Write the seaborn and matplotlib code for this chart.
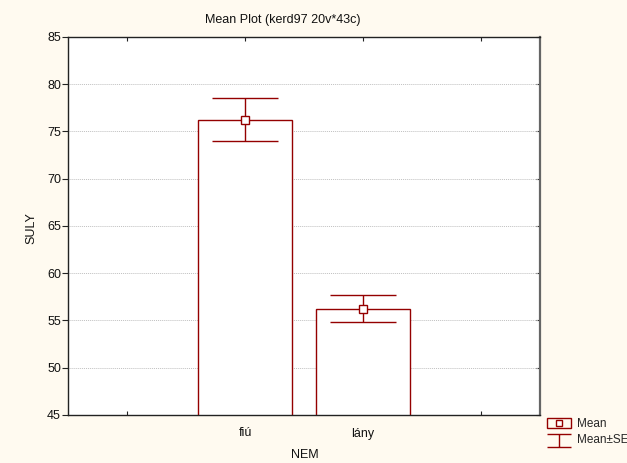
import matplotlib
matplotlib.use("Agg")
import matplotlib.pyplot as plt
import seaborn as sns
import pandas as pd
from matplotlib.lines import Line2D
from matplotlib.patches import Rectangle
from matplotlib.path import Path
from matplotlib.legend_handler import HandlerTuple

# ---- data ----
categories = ["fiú", "lány"]
means = [76.25, 56.25]
se_upper = [78.5, 57.65]
se_lower = [74.0, 54.8]
slots = ["_lo", "fiú", "lány", "_hi"]
slot_labels = ["", "fiú", "lány", ""]
yticks = [45, 50, 55, 60, 65, 70, 75, 80, 85]
title = "Mean Plot (kerd97 20v*43c)"
xlabel = "NEM"
ylabel = "SULY"

RED = "#940000"
BG = "#FFFAF0"

sns.set_theme(style="white")
plt.rcParams["font.family"] = ["Liberation Sans", "DejaVu Sans"]
plt.rcParams["font.size"] = 9

fig = plt.figure(figsize=(6.27, 4.63), dpi=100, facecolor=BG)
W, H = 627, 463
ax = fig.add_axes([68 / W, 1 - 415 / H, (540 - 68) / W, (415 - 37) / H])
ax.set_facecolor("white")

df = pd.DataFrame({"NEM": categories, "SULY": means})
sns.barplot(data=df, x="NEM", y="SULY", order=slots, width=0.8,
            color="white", edgecolor=RED, linewidth=1.0, ax=ax, errorbar=None,
            zorder=2)

xs = [p.get_x() + p.get_width() / 2 for p in ax.patches if p.get_height() > 0]
yerr = [[m - lo for m, lo in zip(means, se_lower)],
        [hi - m for m, hi in zip(means, se_upper)]]
ax.errorbar(xs, means, yerr=yerr, fmt="none", ecolor=RED, elinewidth=1.0,
            capsize=24, capthick=1.0, zorder=3)
ax.plot(xs, means, linestyle="none", marker="s", markersize=6,
        markerfacecolor="white", markeredgecolor=RED, markeredgewidth=1.0, zorder=4)

ax.set_ylim(yticks[0], yticks[-1])
ax.set_xlim(-0.5, 3.5)
ax.set_yticks(yticks)
ax.set_xticks(range(len(slots)))
ax.set_xticklabels(slot_labels)
ax.set_xlabel("")
ax.set_ylabel("")
ax.yaxis.grid(True, linestyle=(0, (1, 1)), color="#c0c0c0", linewidth=0.7, zorder=0)
ax.set_axisbelow(True)

for s in ["left", "top", "bottom"]:
    ax.spines[s].set_color("#222222")
    ax.spines[s].set_linewidth(1.0)
ax.spines["right"].set_color("#666666")
ax.spines["right"].set_linewidth(1.6)

ax.tick_params(axis="y", which="both", left=True, right=False, direction="out",
               length=4, width=0.8, color="#222222", labelsize=9, pad=1,
               labelcolor="#111111")
ax.tick_params(axis="x", which="both", bottom=True, top=False, direction="in",
               length=3, width=0.8, color="#222222", labelsize=9, pad=9,
               labelcolor="#111111")

sec_r = ax.secondary_yaxis("right")
sec_r.set_yticks(yticks)
sec_r.tick_params(direction="in", length=3, width=0.8, color="#222222", labelright=False)
sec_r.spines["right"].set_visible(False)
sec_t = ax.secondary_xaxis("top")
sec_t.set_xticks(range(len(slots)))
sec_t.tick_params(direction="in", length=3, width=0.8, color="#222222", labeltop=False)
sec_t.spines["top"].set_visible(False)

fig.text(283 / W, 1 - 20 / H, title, ha="center", va="center", fontsize=9, color="#111111")
fig.text(305 / W, 1 - 455 / H, xlabel, ha="center", va="center", fontsize=9, color="#111111")
fig.text(31 / W, 1 - 228 / H, ylabel, ha="center", va="center", rotation=90,
         fontsize=9, color="#111111")

# legend
box = Rectangle((0, 0), 1, 1, facecolor="none", edgecolor=RED, linewidth=1.0)
inner = Line2D([], [], linestyle="none", marker="s", markersize=5,
               markerfacecolor="white", markeredgecolor=RED, markeredgewidth=1.0)
ipath = Path([(-1, 0.3), (1, 0.3), (0, 0.3), (0, -0.8), (-1, -0.8), (1, -0.8)],
             [Path.MOVETO, Path.LINETO, Path.MOVETO, Path.LINETO, Path.MOVETO, Path.LINETO])
ibar = Line2D([], [], linestyle="none", marker=ipath, markersize=17,
              markerfacecolor="none", markeredgecolor=RED, markeredgewidth=1.0)
fig.legend([(box, inner), ibar], ["Mean", "Mean±SE"],
           handler_map={tuple: HandlerTuple(ndivide=1, pad=0)},
           loc="upper left", bbox_to_anchor=(547 / W, 1 - 418 / H),
           frameon=False, fontsize=8.5, handlelength=2.0, handleheight=0.85,
           handletextpad=0.5, labelspacing=0.3, borderpad=0, borderaxespad=0)

fig.savefig("out.png", dpi=100, facecolor=BG)
